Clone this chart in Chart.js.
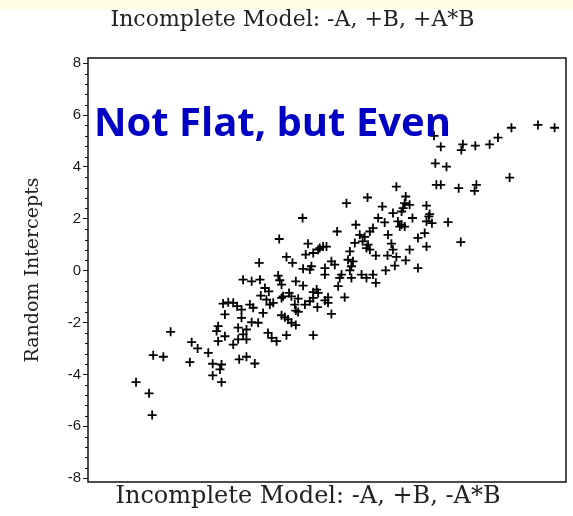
<!DOCTYPE html>
<html>
<head>
<meta charset="utf-8">
<script src="https://cdn.jsdelivr.net/npm/chart.js@4/dist/chart.umd.min.js"></script>
<style>
    html, body { margin: 0; padding: 0; background: #fff; }
    .band { position: absolute; left: 0; top: 0; width: 573px; height: 9px; background: #fffde4; }
    .wrap { position: absolute; left: 0; top: 0; width: 573px; height: 516px; }
</style>
</head>
<body>
<div class="band"></div>
<div class="wrap"><canvas id="intercepts" width="573" height="516"></canvas></div>
<script>
// x: intercepts from the model with -A*B, y: intercepts from the model with +A*B
const predicted = [
    -7.15, -6.65, -6.53, -6.49, -6.10, -5.82, -5.08, -5.01, -4.78, -4.37, -4.20, -4.20, -3.92, -3.86, -3.86, -3.18, -2.90, -2.58,
    -3.99, -4.05, -3.99, -3.73, -3.73, -3.41, -3.22, -2.90, -3.03, -3.22, -2.90, -3.09, -3.09, -2.70, -2.45, -2.26, -2.07, -1.93,
    -1.74, -3.80, -3.60, -3.41, -3.26, -2.77, -2.64, -2.00, -1.87, -1.55, -3.03, -2.70, -2.38,
    -2.41, -2.19, -2.04, -2.35, -2.13,
    -0.91, -1.04, -1.00, -0.91, -0.65, -0.46, -0.33, -0.17, 0.12, 0.24, 0.24, 0.88, 0.37, -1.55, -1.42, -1.30, -1.17, -1.00,
    -1.36, -0.33,
    2.87, 1.76, 0.95, 3.23, 3.19, 3.38, 3.13, 3.07, 2.33, 2.74, -0.74, 2.17, 2.42, 2.93, 3.07, 3.00, 3.19, 3.49, 1.31, 0.59,
    1.97, 1.85, 2.55, -1.64, 1.46, 1.65, 1.57, 1.78, 1.72, 1.85, 1.27, 2.68, -0.53, -0.08, 0.05, 0.18, -0.14, 3.38, 2.74, 3.70,
    -0.62, -0.33, 1.08, -1.36, 2.08, 2.53, 2.87, -1.13, 0.37, 1.01, 1.20, 1.14, 1.08, 3.23, -0.40, -0.46, -0.72, 0.12, 0.50,
    2.81, 2.46, 3.70, -1.68, 0.12, 0.76, 0.69, 1.14, 1.53, 1.72, 1.97, -1.62, -1.55, -1.00, -0.72, 0.63, 2.08, -0.20, -0.14,
    -0.33, -1.26, -1.17, -1.49,
    7.30, 8.32, 8.96, 6.78, 6.46, 5.91, 5.43, 5.37, 4.58, 4.32, 4.37, 4.80, 7.23, 4.41, 4.58, 5.27, 5.95, 5.88, 4.03, 4.15,
    4.12, 4.03, 4.24, 4.86, 3.96, 4.03, 5.35
];
const intercepts = [
    -4.30, -4.73, -5.57, -3.26, -3.32, -2.36, -3.53, -2.76, -3.00, -3.17, -3.59, -4.04, -3.81, -3.62, -4.30, -3.42, -3.32, -3.58,
    -2.14, -2.33, -2.72, -2.53, -1.69, -2.85, -2.20, -2.27, -2.46, -2.65, -2.65, -1.50, -1.82, -1.99, -2.01, -1.63, -2.40, -2.59,
    -2.72, -1.27, -1.22, -1.24, -1.37, -1.31, -1.43, -1.31, -1.24, -1.05, -0.35, -0.41, -0.35,
    0.30, -0.67, -0.80, -0.96, -1.12,
    -1.08, -1.31, -1.54, -1.59, -1.31, -1.18, -1.05, -1.41, -1.15, -1.24, -1.03, -1.03, -1.67, -1.72, -1.80, -1.88, -2.01, -2.10,
    -2.49, -2.49,
    3.24, 2.82, 2.60, 2.86, 2.60, 2.54, 2.41, 2.28, 2.47, 2.22, 2.03, 2.03, 1.86, 1.90, 1.77, 1.70, 1.70, 2.03, 1.77, 1.51,
    1.64, 1.51, 1.38, 1.22, 1.38, 1.30, 1.13, 1.00, 0.87, 0.81, 1.07, 1.04, 1.04, 0.87, 0.93, 0.93, 0.81, 0.81, 0.81, 1.26,
    0.62, 0.68, 0.74, 0.53, 0.58, 0.58, 0.53, 0.30, 0.36, 0.42, 0.36, 0.17, 0.01, 0.40, 0.17, 0.04, 0.07, 0.10, 0.23,
    0.19, 0.01, 0.10, -0.19, -0.15, -0.15, -0.28, -0.28, -0.15, -0.28, -0.15, -0.37, -0.54, -0.41, -0.58, -0.60, -0.47, -0.73, -0.86,
    -0.83, -0.86, -0.99, -0.99,
    5.51, 5.62, 5.51, 5.13, 4.87, 4.82, 4.87, 4.65, 4.78, 5.20, 4.14, 4.01, 3.59, 3.31, 3.31, 3.18, 3.31, 3.08, 2.51, 2.18,
    2.09, 1.90, 1.83, 1.87, 1.45, 0.93, 1.10
];
const yTicks = [-8, -6, -4, -2, 0, 2, 4, 6, 8];

const topTitle = "Incomplete Model: -A, +B, +A*B";
const xTitle = "Incomplete Model: -A, +B, -A*B";
const yTitle = "Random Intercepts";
const note = "Not Flat, but Even";

const points = predicted.map((x, i) => ({ x: x, y: intercepts[i] }));

// box around the plot, minor ticks on y, bottom caption and the blue note
const framePlugin = {
    id: "frame",
    afterDatasetsDraw(chart) {
        const { ctx, chartArea } = chart;
        const y = chart.scales.y;
        ctx.save();
        ctx.strokeStyle = "#111";
        ctx.lineWidth = 1.5;
        ctx.strokeRect(chartArea.left, chartArea.top,
            chartArea.right - chartArea.left, chartArea.bottom - chartArea.top);

        ctx.lineWidth = 1;
        for (let i = 0; i <= 40; i++) {
            if (i % 5 === 0) continue;
            const py = Math.round(y.getPixelForValue(-8 + i * 0.4)) + 0.5;
            ctx.beginPath();
            ctx.moveTo(chartArea.left - 3, py);
            ctx.lineTo(chartArea.left, py);
            ctx.stroke();
        }

        ctx.fillStyle = "#222";
        ctx.font = "24px 'DejaVu Serif'";
        ctx.textAlign = "center";
        ctx.textBaseline = "middle";
        ctx.fillText(xTitle, chartArea.left + 220, 497);

        ctx.fillStyle = "#0000c4";
        ctx.font = "bold 40px 'Open Sans'";
        ctx.textAlign = "left";
        ctx.textBaseline = "alphabetic";
        ctx.fillText(note, 94, 136);
        ctx.restore();
    },
};

new Chart(document.getElementById("intercepts").getContext("2d"), {
    type: "scatter",
    data: {
        datasets: [
            {
                data: points,
                pointStyle: "cross",
                pointRadius: 4.5,
                pointBorderWidth: 1.8,
                borderColor: "#000",
                backgroundColor: "#000",
            },
        ],
    },
    options: {
        responsive: false,
        animation: false,
        layout: { padding: { left: 19, right: 7, top: 0, bottom: 0 } },
        plugins: {
            legend: { display: false },
            tooltip: { enabled: false },
            title: {
                display: true,
                text: topTitle,
                color: "#222",
                font: { family: "'DejaVu Serif'", size: 22, weight: "normal", lineHeight: 1.2 },
                padding: { top: 7, bottom: 24.6 },
            },
        },
        scales: {
            x: {
                type: "linear",
                min: -9,
                max: 9.4,
                ticks: { display: false },
                grid: { display: false },
                border: { display: false },
                afterFit: (scale) => { scale.height = 34; },
            },
            y: {
                type: "linear",
                min: -8.15,
                max: 8.2,
                afterBuildTicks: (scale) => {
                    scale.ticks = yTicks.map((v) => ({ value: v }));
                },
                ticks: {
                    color: "#1a1a1a",
                    padding: 2,
                    font: { family: "'Liberation Sans'", size: 15 },
                    callback: (v) => String(v),
                },
                grid: {
                    drawOnChartArea: false,
                    tickLength: 5,
                    tickColor: "#111",
                    tickWidth: 1,
                },
                border: { display: false },
                title: {
                    display: true,
                    text: yTitle,
                    color: "#222",
                    font: { family: "'DejaVu Serif'", size: 19, lineHeight: 1.2 },
                    padding: { top: 3, bottom: 0 },
                },
                afterFit: (scale) => { scale.width = 69; },
            },
        },
    },
    plugins: [framePlugin],
});
</script>
</body>
</html>
